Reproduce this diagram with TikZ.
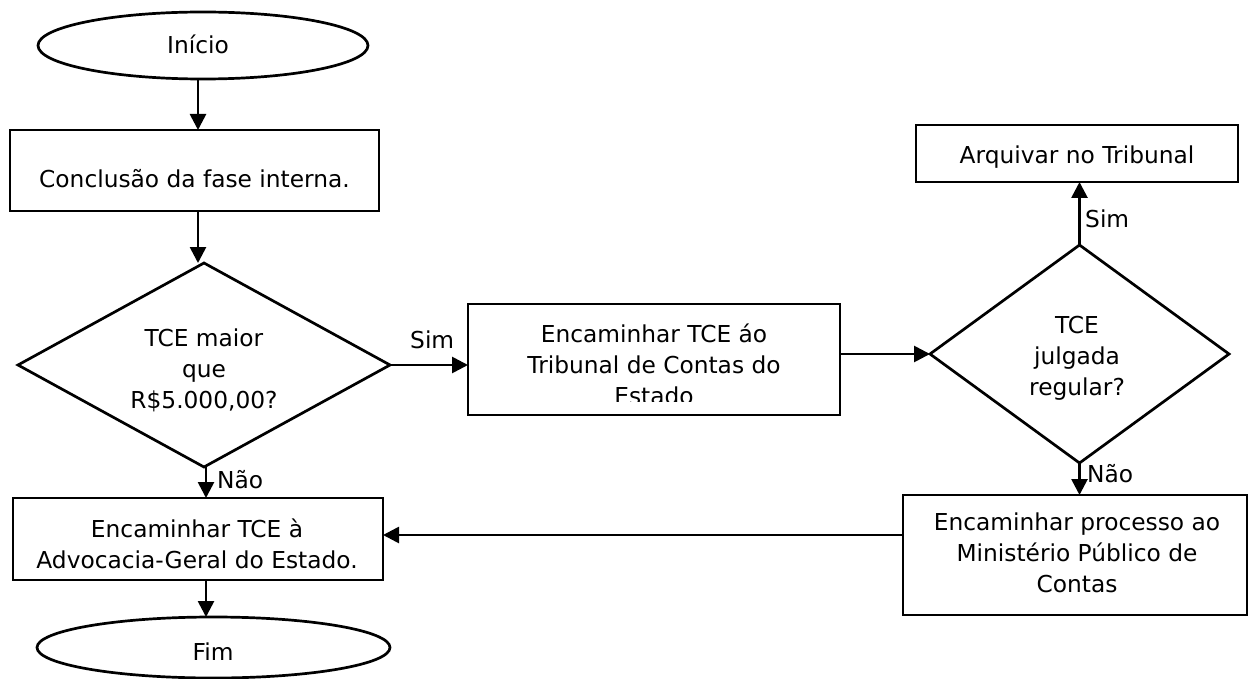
\documentclass[tikz,border=0pt]{standalone}
\usepackage{fontspec}
\setmainfont{DejaVu Sans}
\usetikzlibrary{shapes.geometric,arrows.meta}
\begin{document}
\begin{tikzpicture}[x=1pt,y=-1pt,
  shp/.style={draw=black,line width=2.7pt,inner sep=0pt,outer sep=0pt},
  boxn/.style={shp,rectangle},
  term/.style={shp,ellipse},
  dec/.style={shp,diamond},
  txt/.style={font=\fontsize{23.3}{31}\selectfont,align=center,anchor=base,inner sep=0pt},
  lbl/.style={font=\fontsize{23.3}{31}\selectfont,anchor=base west,inner sep=0pt},
  arr/.style={line width=2.7pt,-{Triangle[length=16pt,width=16pt]}},
]
\path[use as bounding box,fill=white] (0,0) rectangle (1252,679);

% shapes
\node[term,minimum width=330pt,minimum height=67pt] (start) at (203,45.5) {};
\node[boxn,minimum width=369pt,minimum height=81pt] (b1) at (194.5,170.5) {};
\node[dec,minimum width=372pt,minimum height=204pt] (d1) at (204,365) {};
\node[boxn,minimum width=372pt,minimum height=111pt] (b2) at (654,359.5) {};
\node[dec,minimum width=299pt,minimum height=218pt] (d2) at (1079.5,354) {};
\node[boxn,minimum width=322pt,minimum height=57pt] (b4) at (1077,153.5) {};
\node[boxn,minimum width=344pt,minimum height=120pt] (b3) at (1075,555) {};
\node[boxn,minimum width=370pt,minimum height=82pt] (b5) at (198,539) {};
\node[term,minimum width=353pt,minimum height=61pt] (fim) at (213.5,647.5) {};

% texts (base anchor = last line's baseline)
\node[txt] (tstart) at (198,54) {Início};
\node[txt] (t1) at (194.5,188) {Conclusão da fase interna.};
\node[txt] (td1) at (204,408) {TCE maior\\que\\R\$5.000,00?};
\begin{scope}
  \clip (468,304) rectangle (840,401);
  \node[txt] (t2) at (654,404) {Encaminhar TCE áo\\Tribunal de Contas do\\Estado};
\end{scope}
\node[txt] (t4) at (1077,164) {Arquivar no Tribunal};
\node[txt] (td2) at (1077,395) {TCE\\julgada\\regular?};
\node[txt] (t3) at (1077,592) {Encaminhar processo ao\\Ministério Público de\\Contas};
\node[txt] (t5) at (197,568) {Encaminhar TCE à\\Advocacia-Geral do Estado.};
\node[txt] (tfim) at (213,660) {Fim};

% connectors
\coordinate (c1) at (198,0);
\coordinate (c2) at (206,0);
\coordinate (c3) at (0,535);
\draw[arr] (start.south -| c1) -- (b1.north -| c1);
\draw[arr] (b1.south -| c1) -- (d1.north -| c1);
\draw[arr] (d1.south -| c2) -- (b5.north -| c2);
\draw[arr] (b5.south -| c2) -- (fim.north -| c2);
\draw[arr] (d1.east) -- (d1.east -| b2.west);
\draw[arr] (b2.east |- d2.west) -- (d2.west);
\draw[arr] (d2.north) -- (b4.south -| d2.north);
\draw[arr] (d2.south) -- (b3.north -| d2.south);
\draw[arr] (b3.west |- c3) -- (b5.east |- c3);

% labels
\node[lbl] (l1) at (410,348) {Sim};
\node[lbl] (l2) at (217,488) {Não};
\node[lbl] (l3) at (1085,227) {Sim};
\node[lbl] (l4) at (1087,482) {Não};
\end{tikzpicture}
\end{document}
